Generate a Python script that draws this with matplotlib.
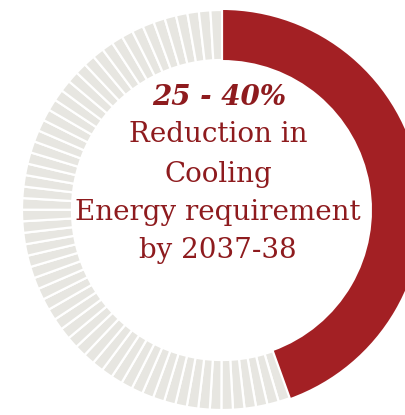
import matplotlib
matplotlib.use("Agg")
import matplotlib.pyplot as plt

# Data
reduction_share = 44.5          # red portion of the ring (%)
remaining_share = 100 - reduction_share
n_gray_segments = 60
headline = "25 - 40%"
caption_lines = ["Reduction in", "Cooling", "Energy requirement", "by 2037-38"]

RED = "#A32024"
GRAY = "#E7E6E1"
TEXT = "#8E1B1E"

W, H = 406, 415
fig = plt.figure(figsize=(W / 100, H / 100), dpi=100)
ax = fig.add_axes([0, 0, 1, 1])

values = [reduction_share] + [remaining_share / n_gray_segments] * n_gray_segments
colors = [RED] + [GRAY] * n_gray_segments
cx, cy = 222, H - 210
wedges, _ = ax.pie(values, colors=colors, startangle=90, counterclock=False,
                   radius=200, center=(cx, cy),
                   wedgeprops=dict(width=50, edgecolor="white", linewidth=1.6))
wedges[0].set_linewidth(0)

ax.set_xlim(0, W)
ax.set_ylim(0, H)
ax.set_aspect("equal")
ax.axis("off")

serif = ["DejaVu Serif"]
ax.text(219, H - 105, headline, ha="center", va="baseline", fontsize=20,
        fontweight="bold", fontstyle="italic", color=TEXT, family=serif)
baselines = [142, 182, 220, 258]
for line, b in zip(caption_lines, baselines):
    ax.text(218, H - b, line, ha="center", va="baseline", fontsize=20,
            color=TEXT, family=serif)

fig.savefig("out.png", dpi=100)
